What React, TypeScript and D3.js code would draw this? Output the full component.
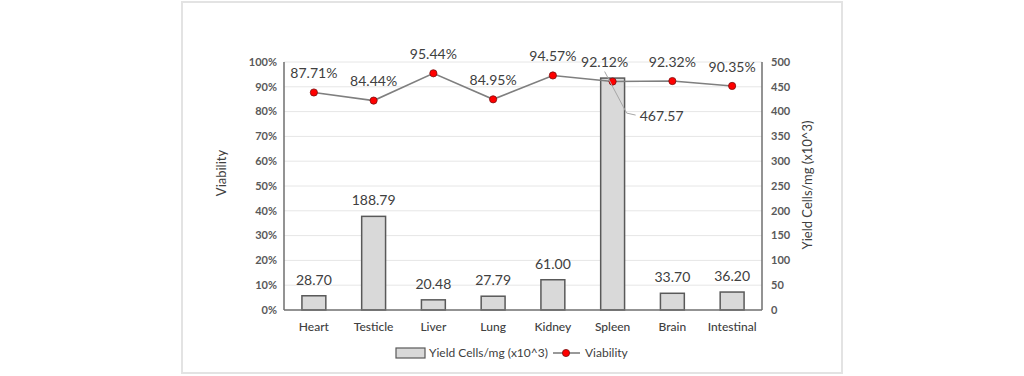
import React from "react";
import * as d3 from "d3";

const categories = ["Heart", "Testicle", "Liver", "Lung", "Kidney", "Spleen", "Brain", "Intestinal"];
const yieldValues = [28.7, 188.79, 20.48, 27.79, 61.0, 467.57, 33.7, 36.2];
const viabilityValues = [0.8771, 0.8444, 0.9544, 0.8495, 0.9457, 0.9212, 0.9232, 0.9035];
const leftTicks = [0, 0.1, 0.2, 0.3, 0.4, 0.5, 0.6, 0.7, 0.8, 0.9, 1.0];
const rightTicks = [0, 50, 100, 150, 200, 250, 300, 350, 400, 450, 500];

const W = 1024;
const H = 376;
const PL = 284;
const PR = 762;
const PT = 62;
const PB = 310;
const FONT = "Lato, 'Noto Sans', sans-serif";

export default function App() {
  const x = d3.scaleBand<string>().domain(categories).range([PL, PR]).paddingInner(0.6).paddingOuter(0.3);
  const yL = d3.scaleLinear().domain([0, 1]).range([PB, PT]);
  const yR = d3.scaleLinear().domain([0, 500]).range([PB, PT]);
  const cx = (c: string) => (x(c) as number) + x.bandwidth() / 2;
  const line = d3
    .line<number>()
    .x((_, i) => cx(categories[i]))
    .y((d) => yL(d));
  const spleenIdx = categories.indexOf("Spleen");

  return (
    <svg width={W} height={H} style={{ position: "absolute", left: 0, top: 0 }} xmlns="http://www.w3.org/2000/svg">
      <rect x={0} y={0} width={W} height={H} fill="#fff" />
      <rect x={182} y={2} width={660} height={371} fill="#fff" stroke="#e3e3e3" strokeWidth={2} />
      {/* gridlines */}
      {leftTicks.slice(1).map((t) => (
        <line key={t} x1={PL} x2={PR} y1={yL(t)} y2={yL(t)} stroke="#e6e6e6" strokeWidth={1} />
      ))}
      {/* bars */}
      {categories.map((c, i) => (
        <rect
          key={c}
          x={x(c)}
          y={yR(yieldValues[i])}
          width={x.bandwidth()}
          height={PB - yR(yieldValues[i])}
          fill="#d9d9d9"
          stroke="#595959"
          strokeWidth={1.5}
        />
      ))}
      {/* axes */}
      <line x1={PL} x2={PL} y1={PT} y2={PB} stroke="#6f6f6f" strokeWidth={1.5} />
      <line x1={PR} x2={PR} y1={PT} y2={PB} stroke="#6f6f6f" strokeWidth={1.5} />
      <line x1={PL} x2={PR} y1={PB} y2={PB} stroke="#6f6f6f" strokeWidth={1.5} />
      {/* left ticks */}
      {leftTicks.map((t) => (
        <text key={t} x={277} y={yL(t)} dy="0.35em" textAnchor="end" fontFamily={FONT} fontSize={11} fontWeight={700} fill="#595959">
          {d3.format(".0%")(t)}
        </text>
      ))}
      {rightTicks.map((t) => (
        <text key={t} x={771} y={yR(t)} dy="0.35em" textAnchor="start" fontFamily={FONT} fontSize={11} fontWeight={700} fill="#595959">
          {t}
        </text>
      ))}
      {/* category labels */}
      {categories.map((c) => (
        <text key={c} x={cx(c)} y={327} dy="0.35em" textAnchor="middle" fontFamily={FONT} fontSize={12} fontWeight={500} fill="#404040">
          {c}
        </text>
      ))}
      {/* axis titles */}
      <text transform={`translate(221,173) rotate(-90)`} textAnchor="middle" dy="0.35em" fontFamily={FONT} fontSize={13} fill="#404040">
        Viability
      </text>
      <text transform={`translate(807,185) rotate(-90)`} textAnchor="middle" dy="0.35em" fontFamily={FONT} fontSize={13} fill="#404040">
        Yield Cells/mg (x10^3)
      </text>
      {/* line */}
      <path d={line(viabilityValues) || ""} fill="none" stroke="#7f7f7f" strokeWidth={1.6} />
      {viabilityValues.map((v, i) => (
        <circle key={i} cx={cx(categories[i])} cy={yL(v)} r={3.6} fill="#ff0000" stroke="#7a1010" strokeWidth={0.8} />
      ))}
      {/* bar labels */}
      {categories.map((c, i) =>
        i === spleenIdx ? null : (
          <text key={c} x={cx(c)} y={yR(yieldValues[i]) - 16} dy="0.35em" textAnchor="middle" fontFamily={FONT} fontSize={14} fill="#404040">
            {yieldValues[i].toFixed(2)}
          </text>
        )
      )}
      {/* spleen callout */}
      <polyline
        points={`${cx("Spleen") - 8},${yL(viabilityValues[spleenIdx]) - 10} ${cx("Spleen") + 14},${yR(yieldValues[spleenIdx]) + 35} ${cx("Spleen") + 23},${yR(yieldValues[spleenIdx]) + 37}`}
        fill="none"
        stroke="#a6a6a6"
        strokeWidth={1}
      />
      <text x={cx("Spleen") + 49} y={yR(yieldValues[spleenIdx]) + 38} dy="0.35em" textAnchor="middle" fontFamily={FONT} fontSize={14} fill="#404040">
        {yieldValues[spleenIdx].toFixed(2)}
      </text>
      {/* viability labels */}
      {viabilityValues.map((v, i) => (
        <text
          key={i}
          x={cx(categories[i]) + (i === spleenIdx ? -8 : 0)}
          y={yL(v) - 19}
          dy="0.35em"
          textAnchor="middle"
          fontFamily={FONT}
          fontSize={14}
          fill="#404040"
        >
          {d3.format(".2%")(v)}
        </text>
      ))}
      {/* legend */}
      <rect x={396} y={348} width={29} height={10} fill="#d9d9d9" stroke="#595959" strokeWidth={1.2} />
      <text x={429} y={353} dy="0.35em" fontFamily={FONT} fontSize={12} fill="#404040">
        Yield Cells/mg (x10^3)
      </text>
      <line x1={553} x2={580} y1={353} y2={353} stroke="#7f7f7f" strokeWidth={1.6} />
      <circle cx={566} cy={353} r={3.6} fill="#ff0000" stroke="#7a1010" strokeWidth={0.8} />
      <text x={585} y={353} dy="0.35em" fontFamily={FONT} fontSize={12} fill="#404040">
        Viability
      </text>
    </svg>
  );
}
